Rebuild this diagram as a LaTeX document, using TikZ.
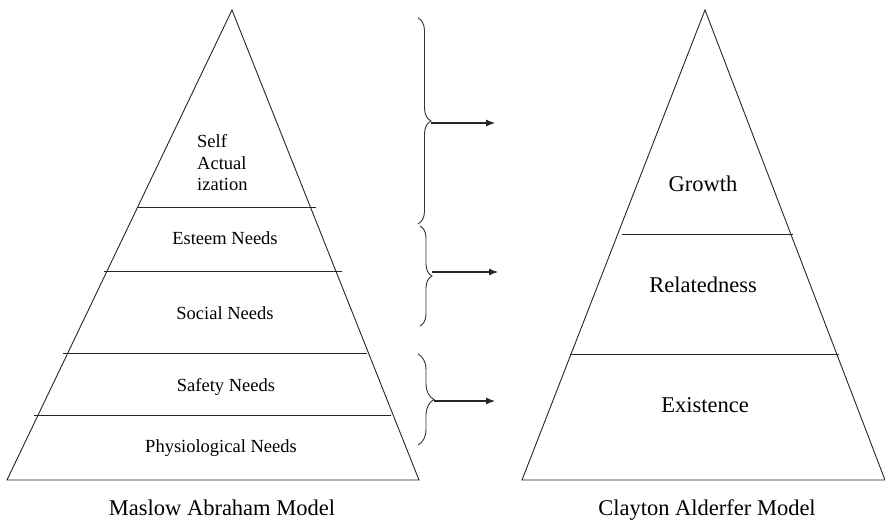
\documentclass[tikz,border=0pt]{standalone}
\usepackage{fontspec}
\setmainfont{Liberation Serif}
\usetikzlibrary{decorations.pathreplacing,arrows.meta}
\begin{document}
\begin{tikzpicture}[x=1pt,y=-1pt,
  edge/.style={line width=0.9pt,black!85},
  layer/.style={line width=0.9pt,black!85},
  lbl/.style={font=\fontsize{18.5}{21.5}\selectfont,inner sep=0pt},
  biglbl/.style={font=\fontsize{22.5}{26}\selectfont,inner sep=0pt},
  bracestyle/.style={decorate,line width=0.9pt,black!80},
  arr/.style={line width=1.1pt,black!85,-{Latex[length=9pt,width=7pt]}}]
\useasboundingbox (0,0) rectangle (885,519);
% left pyramid
\coordinate (LA) at (232,10);
\coordinate (LL) at (7,480);
\coordinate (LR) at (419,480);
\draw[edge] (LL) -- (LA) -- (LR) -- cycle;
\draw[layer] (137,207) -- (316,207);
\draw[layer] (104,271) -- (342,271);
\draw[layer] (63,353) -- (367,353);
\draw[layer] (34,415) -- (391,415);
\node[lbl,anchor=west,align=left] (self) at (197,163) {Self\\Actual\\ization};
\node[lbl] (esteem) at (225,238) {Esteem Needs};
\node[lbl] (social) at (225,313) {Social Needs};
\node[lbl] (safety) at (226,387) {Safety Needs};
\node[lbl] (phys) at (221,448) {Physiological Needs};
\node[biglbl] (maslow) at (222,508) {Maslow Abraham Model};
% right pyramid
\coordinate (RA) at (705,10);
\coordinate (RL) at (522,480);
\coordinate (RR) at (885,480);
\draw[edge] (RL) -- (RA) -- (RR) -- cycle;
\draw[layer] (622,234) -- (793,234);
\draw[layer] (570,354) -- (839,354);
\node[biglbl] (growth) at (703,184) {Growth};
\node[biglbl] (related) at (703,285) {Relatedness};
\node[biglbl] (exist) at (705,405) {Existence};
\node[biglbl] (clayton) at (707,510) {Clayton Alderfer Model};
% braces
\draw[bracestyle,decoration={brace,amplitude=13pt}] (418,18) -- (418,224);
\draw[bracestyle,decoration={brace,amplitude=12pt}] (420,226) -- (420,326);
\draw[bracestyle,decoration={brace,amplitude=16pt}] (418,354) -- (418,445);
\coordinate (b1) at (431,121);
\coordinate (b2) at (432,272);
\coordinate (b3) at (434,400);
\coordinate (t1) at (495,123);
\coordinate (t2) at (498,272);
\coordinate (t3) at (495,401);
\draw[arr] (b1 |- t1) -- (t1);
\draw[arr] (b2) -- (t2);
\draw[arr] (b3 |- t3) -- (t3);
\end{tikzpicture}
\end{document}
